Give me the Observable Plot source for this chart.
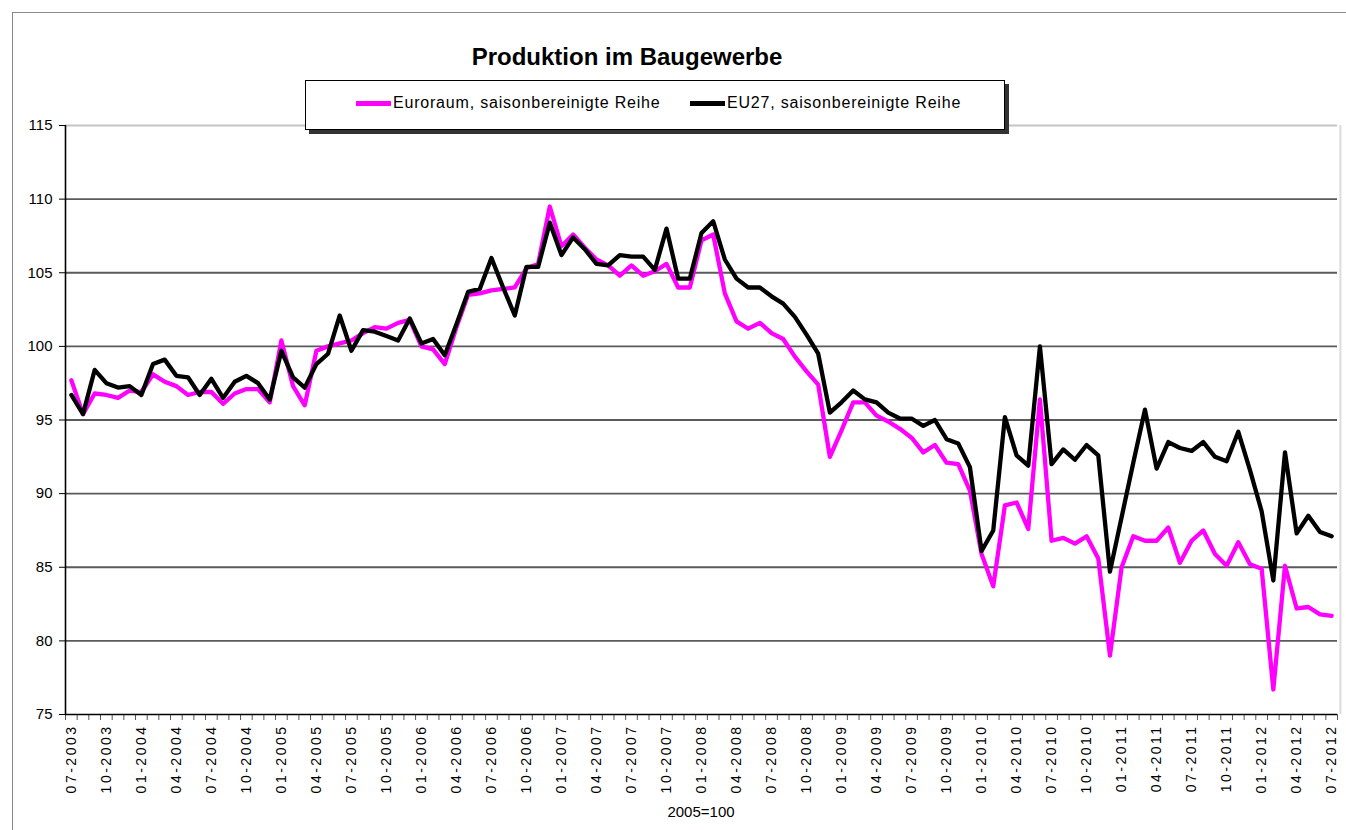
<!DOCTYPE html>
<html>
<head>
<meta charset="utf-8">
<script src="https://cdn.jsdelivr.net/npm/d3@7"></script>
<script src="https://cdn.jsdelivr.net/npm/@observablehq/plot@0.6"></script>
<style>
  html, body { margin: 0; padding: 0; background: #fff; }
  #wrap { position: relative; width: 1346px; height: 830px; overflow: hidden; font-family: "Liberation Sans", Arial, sans-serif; }
  #frame { position: absolute; left: 12px; top: 12px; width: 1400px; height: 900px; border-left: 1.5px solid #8a8a8a; border-top: 1.5px solid #8a8a8a; pointer-events: none; }
  #title { position: absolute; left: 0; width: 1254px; top: 43px; text-align: center; font-family: "Liberation Sans", Arial, sans-serif; font-weight: bold; font-size: 24px; color: #000; }
  #legend { position: absolute; left: 305px; top: 80px; width: 698px; height: 48px; background: #fff; border: 1.5px solid #000; box-shadow: 4px 4px 0 #333; font-family: "Liberation Sans", Arial, sans-serif; font-size: 16px; letter-spacing: 0.8px; }
  .item { position: absolute; top: 13px; display: flex; align-items: center; white-space: nowrap; }
  .sw { display: inline-block; width: 35px; height: 5px; margin-right: 2px; }
  #note { position: absolute; left: 0; width: 1402px; top: 803px; text-align: center; font-size: 15px; font-family: "Liberation Sans", Arial, sans-serif; }
  svg { position: absolute; left: 0; top: 0; }
</style>
</head>
<body>
<div id="wrap"></div>
<script>
// Category tick labels (every third month)
const tickLabels = ["07-2003","10-2003","01-2004","04-2004","07-2004","10-2004","01-2005","04-2005","07-2005","10-2005",
  "01-2006","04-2006","07-2006","10-2006","01-2007","04-2007","07-2007","10-2007","01-2008","04-2008",
  "07-2008","10-2008","01-2009","04-2009","07-2009","10-2009","01-2010","04-2010","07-2010","10-2010",
  "01-2011","04-2011","07-2011","10-2011","01-2012","04-2012","07-2012"];

// Euroraum, saisonbereinigte Reihe (monthly, 07-2003 .. 07-2012)
const euroraum = [97.7,95.4,96.8,96.7,96.5,97.0,96.9,98.1,97.6,97.3,96.7,96.9,96.9,96.1,96.8,97.1,97.1,96.2,100.4,97.3,
  96.0,99.7,100.0,100.2,100.4,100.9,101.3,101.2,101.6,101.8,100.0,99.8,98.8,101.3,103.5,103.6,103.8,103.9,104.0,105.3,
  105.6,109.5,106.8,107.6,106.7,105.9,105.5,104.8,105.5,104.8,105.1,105.6,104.0,104.0,107.2,107.6,103.6,101.7,101.2,101.6,
  100.9,100.5,99.3,98.3,97.4,92.5,94.3,96.2,96.2,95.3,94.9,94.4,93.8,92.8,93.3,92.1,92.0,90.2,85.9,83.7,
  89.2,89.4,87.6,96.4,86.8,87.0,86.6,87.1,85.6,79.0,85.0,87.1,86.8,86.8,87.7,85.3,86.8,87.5,85.9,85.1,
  86.7,85.2,84.9,76.7,85.1,82.2,82.3,81.8,81.7];

// EU27, saisonbereinigte Reihe
const eu27 = [96.7,95.4,98.4,97.5,97.2,97.3,96.7,98.8,99.1,98.0,97.9,96.7,97.8,96.5,97.6,98.0,97.5,96.4,99.7,97.9,
  97.2,98.8,99.5,102.1,99.7,101.1,101.0,100.7,100.4,101.9,100.2,100.5,99.4,101.5,103.7,103.9,106.0,104.0,102.1,105.4,
  105.4,108.4,106.2,107.4,106.6,105.6,105.5,106.2,106.1,106.1,105.2,108.0,104.6,104.6,107.7,108.5,105.9,104.6,104.0,104.0,
  103.4,102.9,102.0,100.8,99.5,95.5,96.2,97.0,96.4,96.2,95.5,95.1,95.1,94.6,95.0,93.7,93.4,91.8,86.1,87.5,
  95.2,92.6,91.9,100.0,92.0,93.0,92.3,93.3,92.6,84.7,88.4,92.1,95.7,91.7,93.5,93.1,92.9,93.5,92.5,92.2,
  94.2,91.6,88.8,84.1,92.8,87.3,88.5,87.4,87.1];

const yTicks = [75, 80, 85, 90, 95, 100, 105, 110, 115];

const n = euroraum.length;
const idx = d3.range(n);
const labelIdx = idx.filter(i => i % 3 === 0);
const boundaries = d3.range(n + 1).map(i => i - 0.5);

const chart = Plot.plot({
  width: 1346,
  height: 830,
  marginLeft: 65,
  marginRight: 9,
  marginTop: 125,
  marginBottom: 116,
  style: { fontFamily: '"Liberation Sans", Arial, sans-serif', background: "transparent", overflow: "visible" },
  x: { domain: [-0.5, n - 0.5], axis: null },
  y: { domain: [75, 115], axis: null },
  marks: [
    Plot.ruleY(yTicks.filter(d => d > 75), { stroke: d => d === 115 ? "#c4c4c4" : "#5a5a5a", strokeWidth: 1.8 }),
    Plot.ruleX([1.0], { x: () => n - 0.5 + 0.25, stroke: "#dcdcdc", strokeWidth: 2 }),
    Plot.axisY({ ticks: yTicks, tickSize: 6, tickPadding: 7, fontSize: 15, tickFormat: d => String(d), stroke: "#000" }),
    Plot.axisX({ ticks: boundaries, tickSize: 6, tickFormat: () => "", stroke: "#555" }),
    Plot.axisX({ ticks: labelIdx, tickSize: 0, tickPadding: 10, tickRotate: -90, fontSize: 14, tickFormat: i => tickLabels[i / 3] }),
    Plot.ruleX([-0.5], { stroke: "#000", strokeWidth: 1.6 }),
    Plot.ruleY([75], { stroke: "#000", strokeWidth: 1.6 }),
    Plot.lineY(euroraum, { x: (d, i) => i, y: d => d, stroke: "#ff00ff", strokeWidth: 4.3, strokeLinejoin: "round" }),
    Plot.lineY(eu27, { x: (d, i) => i, y: d => d, stroke: "#000000", strokeWidth: 4.3, strokeLinejoin: "round" })
  ]
});

const wrap = document.getElementById("wrap");
wrap.appendChild(chart);
d3.select(chart).selectAll('g[aria-label="x-axis tick label"] text').style("letter-spacing", "2.5px");

const frame = document.createElement("div"); frame.id = "frame"; wrap.appendChild(frame);

const title = document.createElement("div"); title.id = "title";
title.textContent = "Produktion im Baugewerbe"; wrap.appendChild(title);

const legendItems = [
  { label: "Euroraum, saisonbereinigte Reihe", color: "#ff00ff", left: 50 },
  { label: "EU27, saisonbereinigte Reihe", color: "#000000", left: 384 }
];
const legend = document.createElement("div"); legend.id = "legend";
for (const it of legendItems) {
  const d = document.createElement("div"); d.className = "item"; d.style.left = it.left + "px";
  const s = document.createElement("span"); s.className = "sw"; s.style.background = it.color;
  const t = document.createElement("span"); t.textContent = it.label;
  d.appendChild(s); d.appendChild(t); legend.appendChild(d);
}
wrap.appendChild(legend);

const note = document.createElement("div"); note.id = "note"; note.textContent = "2005=100"; wrap.appendChild(note);
</script>
</body>
</html>
